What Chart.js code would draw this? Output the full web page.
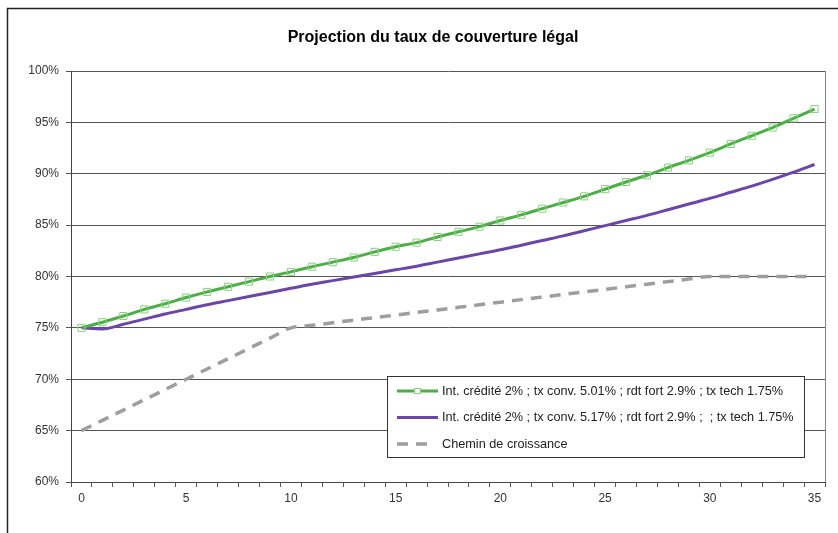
<!DOCTYPE html>
<html>
<head>
<meta charset="utf-8">
<script src="https://cdn.jsdelivr.net/npm/chart.js@4/dist/chart.umd.min.js"></script>
<style>
    html, body { margin: 0; padding: 0; background: #fff; }
</style>
</head>
<body>
<canvas id="myChart" width="838" height="533"></canvas>
<script>
// années de projection
const annees = [0, 1, 2, 3, 4, 5, 6, 7, 8, 9, 10, 11, 12, 13, 14, 15, 16, 17,
    18, 19, 20, 21, 22, 23, 24, 25, 26, 27, 28, 29, 30, 31, 32, 33, 34, 35];

// taux de couverture (%)
const tauxConv501 = [75.0, 75.55, 76.15, 76.8, 77.35, 77.95, 78.5, 79.0, 79.5, 80.0,
    80.45, 80.95, 81.4, 81.85, 82.4, 82.9, 83.3, 83.85, 84.35, 84.85, 85.45, 86.0,
    86.6, 87.2, 87.8, 88.5, 89.2, 89.85, 90.6, 91.3, 92.05, 92.9, 93.7, 94.5, 95.4, 96.3];
const tauxConv517 = [75.0, 74.9, 75.35, 75.85, 76.35, 76.8, 77.25, 77.65, 78.05, 78.45,
    78.85, 79.25, 79.6, 79.95, 80.3, 80.65, 81.0, 81.4, 81.8, 82.2, 82.6, 83.05,
    83.5, 83.95, 84.45, 84.95, 85.45, 85.95, 86.5, 87.05, 87.6, 88.2, 88.8, 89.45, 90.15, 90.9];
const cheminCroissance = [65, 66, 67, 68, 69, 70, 71, 72, 73, 74, 75, 75.25, 75.5,
    75.75, 76, 76.25, 76.5, 76.75, 77, 77.25, 77.5, 77.75, 78, 78.25, 78.5, 78.75,
    79, 79.25, 79.5, 79.75, 80, 80, 80, 80, 80, 80];

const libelles = [
    'Int. crédité 2% ; tx conv. 5.01% ; rdt fort 2.9% ; tx tech 1.75%',
    'Int. crédité 2% ; tx conv. 5.17% ; rdt fort 2.9% ;  ; tx tech 1.75%',
    'Chemin de croissance'
];
const titre = 'Projection du taux de couverture légal';

const police = '"Liberation Sans", Arial, sans-serif';
Chart.defaults.font.family = police;
Chart.defaults.font.size = 12;
Chart.defaults.color = '#333';

// cadre extérieur, titre et bord droit de la zone de tracé
const cadre = {
    id: 'cadre',
    beforeDraw(chart) {
        const ctx = chart.ctx;
        ctx.save();
        ctx.fillStyle = '#fff';
        ctx.fillRect(0, 0, chart.width, chart.height);
        ctx.strokeStyle = '#222';
        ctx.lineWidth = 1.5;
        ctx.strokeRect(7.5, 8.5, 860, 560);
        ctx.fillStyle = '#000';
        ctx.font = 'bold 16px ' + police;
        ctx.textAlign = 'center';
        ctx.textBaseline = 'middle';
        ctx.fillText(titre, 433, 38);
        ctx.restore();
    },
    beforeDatasetsDraw(chart) {
        const a = chart.chartArea;
        const ctx = chart.ctx;
        ctx.save();
        ctx.strokeStyle = '#888';
        ctx.lineWidth = 1;
        ctx.beginPath();
        ctx.moveTo(Math.round(a.right) + 0.5, a.top);
        ctx.lineTo(Math.round(a.right) + 0.5, a.bottom);
        ctx.stroke();
        ctx.restore();
    }
};

// légende encadrée dans la zone de tracé
const legendeBoite = {
    id: 'legendeBoite',
    afterDraw(chart) {
        const ctx = chart.ctx;
        ctx.save();
        ctx.fillStyle = '#fff';
        ctx.fillRect(387.5, 376.5, 417, 81);
        ctx.strokeStyle = '#333';
        ctx.lineWidth = 1;
        ctx.strokeRect(387.5, 376.5, 417, 81);
        chart.data.datasets.forEach((ds, i) => {
            const y = 391 + i * 26.5;
            ctx.beginPath();
            ctx.strokeStyle = ds.borderColor;
            ctx.lineWidth = ds.borderWidth;
            ctx.setLineDash(ds.borderDash || []);
            ctx.moveTo(397, y);
            ctx.lineTo(ds.borderDash ? 431 : 438, y);
            ctx.stroke();
            ctx.setLineDash([]);
            if (ds.pointRadius > 0) {
                ctx.strokeStyle = ds.pointBorderColor;
                ctx.lineWidth = 1;
                ctx.fillStyle = '#fff';
                ctx.fillRect(414.5, y - 2.5, 6, 5);
                ctx.strokeRect(414.5, y - 2.5, 6, 5);
            }
            ctx.fillStyle = '#222';
            ctx.font = '12.7px ' + police;
            ctx.textBaseline = 'middle';
            ctx.textAlign = 'left';
            ctx.fillText(ds.label, 442, y);
        });
        ctx.restore();
    }
};

new Chart(document.getElementById('myChart'), {
    type: 'line',
    data: {
        labels: annees,
        datasets: [
            {
                label: libelles[0],
                data: tauxConv501,
                borderColor: '#4caf46',
                borderWidth: 3,
                pointStyle: 'rect',
                pointRadius: 5,
                pointBorderWidth: 1,
                pointBorderColor: '#86d07e',
                pointBackgroundColor: 'rgba(255,255,255,0)',
                cubicInterpolationMode: 'monotone',
            },
            {
                label: libelles[1],
                data: tauxConv517,
                borderColor: '#6b46a8',
                borderWidth: 3,
                pointRadius: 0,
                cubicInterpolationMode: 'monotone',
            },
            {
                label: libelles[2],
                data: cheminCroissance,
                borderColor: '#9c9e9f',
                borderWidth: 3.5,
                borderDash: [11, 8],
                pointRadius: 0,
                cubicInterpolationMode: 'monotone',
            },
        ],
    },
    options: {
        responsive: false,
        devicePixelRatio: 1,
        animation: false,
        layout: { padding: { left: 0, right: 13, top: 71, bottom: 0 } },
        plugins: {
            legend: { display: false },
            tooltip: { enabled: false },
            title: { display: false },
        },
        scales: {
            x: {
                type: 'category',
                offset: true,
                grid: {
                    offset: true,
                    drawOnChartArea: false,
                    drawTicks: true,
                    tickLength: 5,
                    color: '#555',
                },
                border: { color: '#444', width: 1 },
                ticks: {
                    autoSkip: false,
                    maxRotation: 0,
                    padding: 4,
                    color: '#333',
                    callback: (v, i) => (annees[i] % 5 === 0 ? annees[i] : ''),
                },
                afterFit: (s) => { s.height = 51; },
            },
            y: {
                min: 60,
                max: 100,
                grid: { color: '#555', tickLength: 5 },
                border: { color: '#444', width: 1 },
                ticks: {
                    stepSize: 5,
                    padding: 7,
                    color: '#333',
                    callback: (v) => v + '%',
                },
                afterFit: (s) => { s.width = 71; },
            },
        },
    },
    plugins: [cadre, legendeBoite],
});
</script>
</body>
</html>
